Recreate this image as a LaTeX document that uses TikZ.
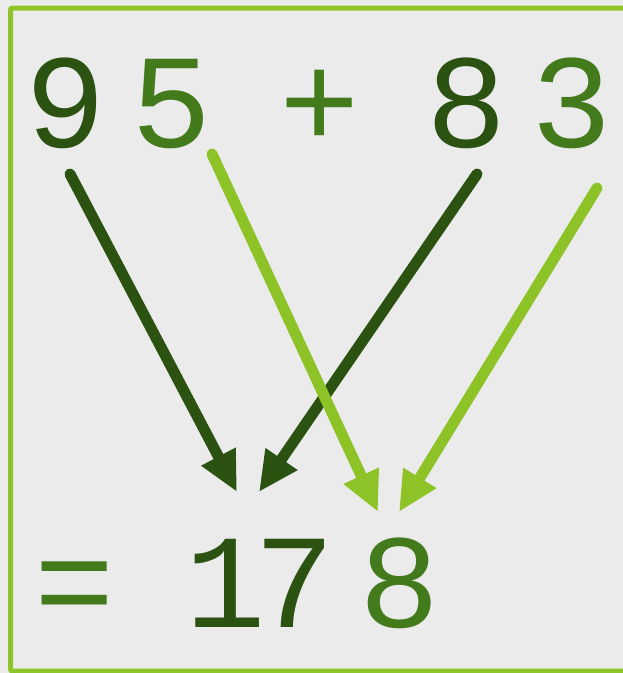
\documentclass[tikz,border=0pt]{standalone}
\usepackage{fontspec}
\setmainfont{Liberation Mono}
\usetikzlibrary{arrows.meta}
\definecolor{bggray}{HTML}{EBEBEB}
\definecolor{framegreen}{HTML}{8FC42A}
\definecolor{darkgreen}{HTML}{2B5210}
\definecolor{midgreen}{HTML}{437A1B}
\definecolor{lightgreen}{HTML}{8DC326}
\tikzset{
  digit/.style={inner sep=0pt, anchor=base, font=\fontsize{134}{134}\selectfont},
  carry/.style={line width=11pt, line cap=round, -{Triangle[length=40pt, width=36pt]}}
}
\begin{document}
\begin{tikzpicture}[x=1pt,y=-1pt]
        % Sfondo
        \useasboundingbox (0,0) rectangle (623,673);
        \fill [bggray] (0,0) rectangle (623,673);
        \draw [framegreen,line width=5pt,rounded corners=2pt] (10.5,8) rectangle (640,671);
        % Numeri
        \node [digit,text=darkgreen] (nine) at (66,147) {9};
        \node [digit,text=midgreen] (five) at (172,147) {5};
        \node [digit,text=midgreen] (plus) at (320,147) {+};
        \node [digit,text=darkgreen] (eight) at (467,147) {8};
        \node [digit,text=midgreen] (three) at (572,147) {3};
        \node [digit,text=midgreen] (equals) at (75,627) {=};
        \node [digit,text=darkgreen] (one) at (226,627) {1};
        \node [digit,text=darkgreen] (seven) at (295,627) {7};
        \node [digit,text=midgreen] (result) at (400,627) {8};
        % Punti
        \coordinate (from9) at (70,174);
        \coordinate (from5) at (212,154);
        \coordinate (from8) at (477,174);
        \coordinate (from3) at (597,188);
        \coordinate (to9) at (237,492);
        \coordinate (to8) at (259,492);
        \coordinate (to5) at (378,512);
        \coordinate (to3) at (399,512);
        % Frecce
        \draw [carry,darkgreen] (from9) -- (to9);
        \draw [carry,darkgreen] (from8) -- (to8);
        \draw [carry,lightgreen] (from5) -- (to5);
        \draw [carry,lightgreen] (from3) -- (to3);
\end{tikzpicture}
\end{document}
